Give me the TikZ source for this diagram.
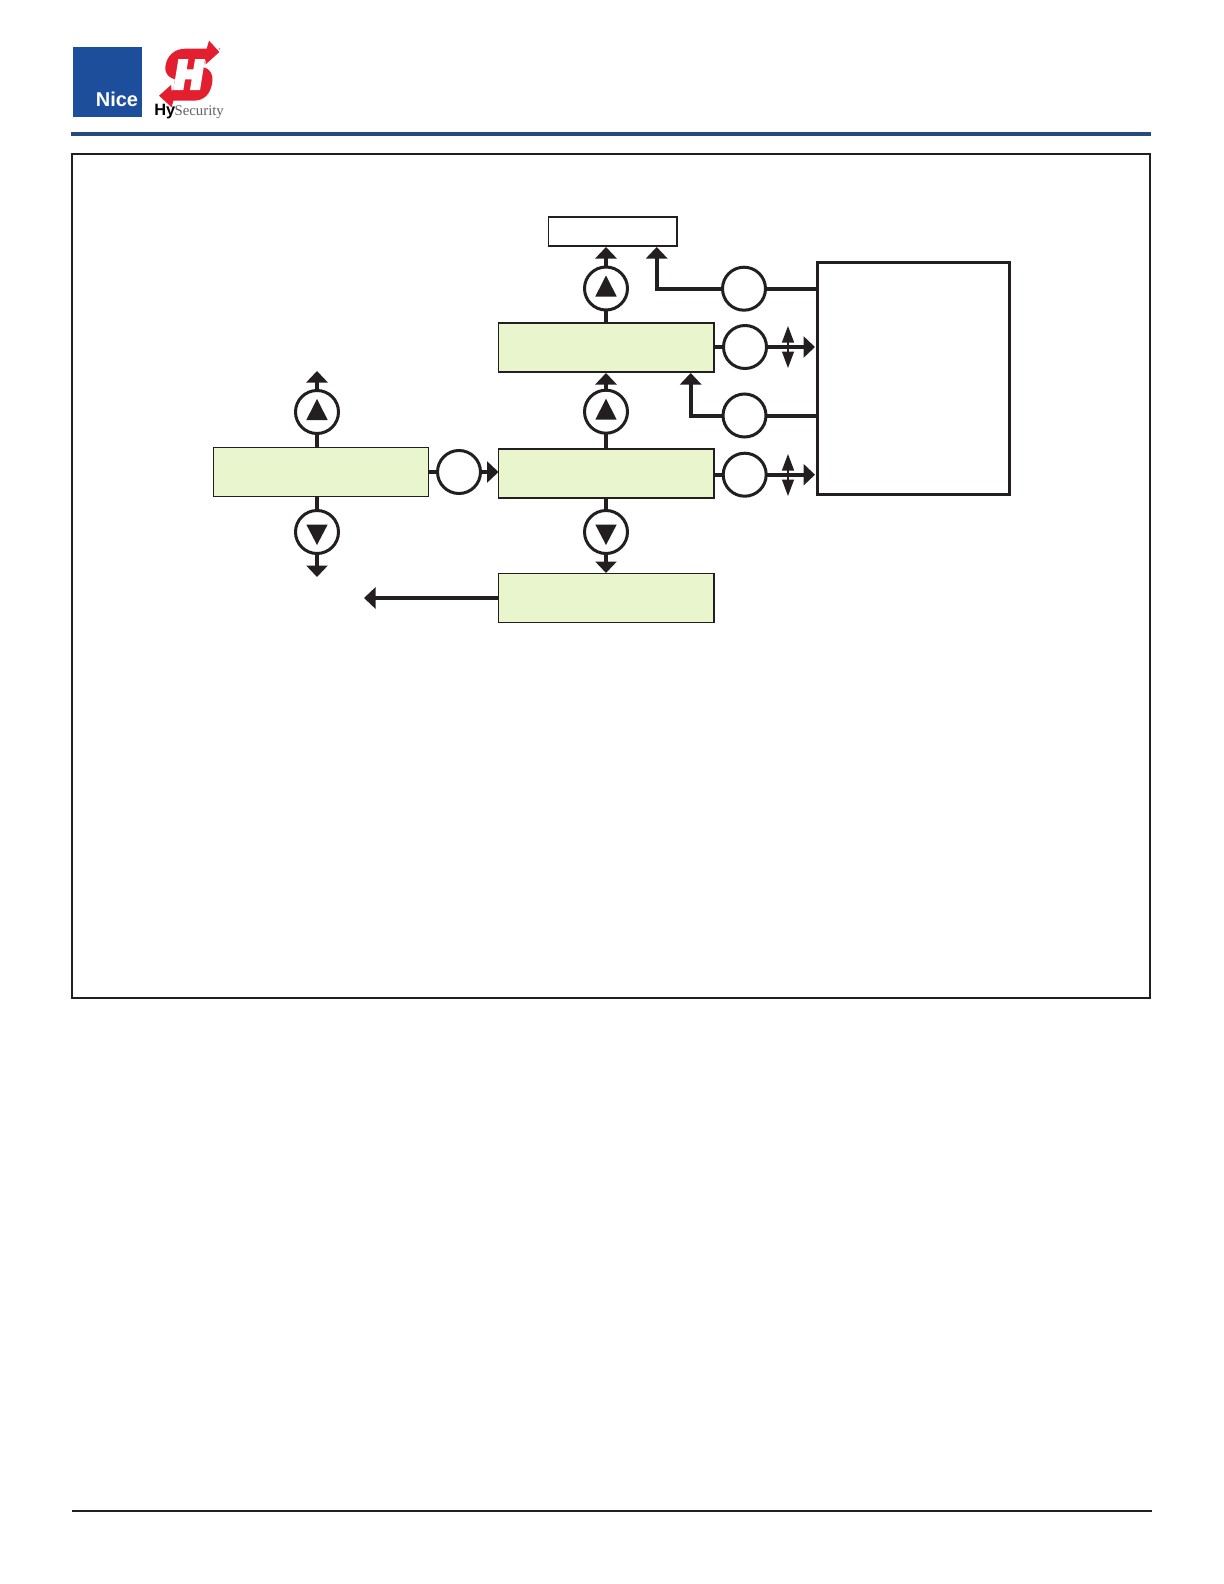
\documentclass[tikz,border=0pt]{standalone}
\usepackage{fontspec}
\setmainfont{Liberation Sans}
\newfontfamily\serifhy{Liberation Serif}
\usetikzlibrary{arrows.meta}
\definecolor{ink}{HTML}{231F20}
\definecolor{panel}{HTML}{E9F5CD}
\definecolor{rule}{HTML}{264A7D}
\definecolor{nice}{HTML}{1C4E9C}
\definecolor{hyred}{HTML}{E31F2F}
\tikzset{
  x=0.5pt,y=-0.5pt,
  panelbox/.style={draw=ink,fill=panel,line width=0.85pt,minimum width=107.75pt,minimum height=24.5pt,inner sep=0pt,outer sep=0pt},
  circ/.style={circle,draw=ink,fill=white,line width=1.5pt,minimum size=21.5pt,inner sep=0pt,outer sep=0pt},
  link/.style={draw=ink,line width=2pt},
  arrowlink/.style={link,-{Triangle[length=5.75pt,width=10.5pt,sep=0pt]}},
  updown/.style={draw=ink,line width=0.6pt,{Triangle[length=8.25pt,width=6pt,sep=0pt]}-{Triangle[length=8.25pt,width=6pt,sep=0pt]}},
  glyph/.style={fill=ink},
  cornerlink/.style={arrowlink,line join=miter}
}
\newcommand{\upglyph}[1]{\fill[glyph,shift={(#1)}] (0,-13) -- (-10.7,8) -- (10.7,8) -- cycle;}
\newcommand{\downglyph}[1]{\fill[glyph,shift={(#1)}] (0,13) -- (-10.7,-7.5) -- (10.7,-7.5) -- cycle;}
\begin{document}
\begin{tikzpicture}
\useasboundingbox (0,0) rectangle (1224,1584);
\fill[white] (0,0) rectangle (1224,1584);

% header
\fill[nice] (73,47) rectangle (141.7,116.7);
\node[anchor=base east,inner sep=0pt,text=white,font=\bfseries\fontsize{10pt}{12pt}\selectfont] (nicetext) at (138.5,106) {Nice};
\begin{scope}[shift={(60,30)},x=0.1667pt,y=-0.1667pt]
  \fill[hyred] (440,56) -- (447,32) -- (478,66) -- (437,103) -- (437,85) -- (430,112)
    .. controls (452,116) and (459,135) .. (457,155)
    .. controls (452,195) and (430,212) .. (400,212) -- (340,212) -- (335,232) -- (297,197) -- (333,165) -- (335,182) -- (340,180) -- (345,148)
    .. controls (328,144) and (314,132) .. (316,110)
    .. controls (320,78) and (342,57) .. (375,56) -- cycle;
  \fill[white] (355,87) -- (385,87) -- (380,118) -- (400,118) -- (405,87) -- (435,87) -- (420,180) -- (390,180) -- (395,148) -- (375,148) -- (370,180) -- (340,180) -- cycle;
  \fill[hyred] (478,57) circle (2);
\end{scope}
\node[anchor=base west,inner sep=0pt,font=\fontsize{8.2pt}{9pt}\selectfont] (hytext) at (154,116) {\textbf{\textcolor{black}{Hy}}\kern-0.4pt{\serifhy\fontsize{7.4pt}{9pt}\selectfont\textcolor{ink!70}{Security}}};
\fill[ink!60] (222.5,110) circle (0.5);

\fill[rule] (71,132) rectangle (1151,136);
\draw[ink,line width=1pt] (71.7,154) rectangle (1150,997.7);
\draw[ink,line width=1pt] (72,1511) -- (1152,1511);

% boxes
\node[draw=ink,fill=white,line width=0.85pt,minimum width=64.25pt,minimum height=14.25pt,inner sep=0pt,outer sep=0pt] (topbox) at (612.75,231.5) {};
\node[panelbox] (boxA) at (606.25,347.5) {};
\node[panelbox] (boxB) at (606.25,473.75) {};
\node[panelbox] (boxC) at (606.25,598) {};
\node[panelbox,line width=0.65pt] (boxL) at (321,472) {};
\node[draw=ink,fill=white,line width=1.5pt,minimum width=96pt,minimum height=116pt,inner sep=0pt,outer sep=0pt] (sidebox) at (913.25,378) {};

% circles
\node[circ] (upTop) at (606,288.5) {};
\node[circ] (upMid) at (606,411.7) {};
\node[circ] (downMid) at (606,532) {};
\node[circ] (upLeft) at (317,412) {};
\node[circ] (downLeft) at (317,532) {};
\node[circ] (goRight) at (459,472) {};
\node[circ] (sideA) at (744,288.7) {};
\node[circ] (sideB) at (745,347) {};
\node[circ] (sideC) at (744.5,415.5) {};
\node[circ] (sideD) at (744.7,474.7) {};

% glyphs
\upglyph{upTop}\upglyph{upMid}\upglyph{upLeft}
\downglyph{downMid}\downglyph{downLeft}

% free ends
\coordinate (tipTop) at (606,247);
\coordinate (tipMid) at (606,373);
\coordinate (tipLeftUp) at (317,371);
\coordinate (tipLeftDown) at (317,577);
\coordinate (tipDown) at (606,573);
\coordinate (tipExit) at (364,598);
\coordinate (tipElbowA) at (656.7,247);
\coordinate (tipElbowC) at (690.7,373);
\coordinate (tipSideB) at (815,347);
\coordinate (tipSideD) at (815,474.7);
\coordinate (udBtop) at (788,326);
\coordinate (udBbot) at (788,368);
\coordinate (udDtop) at (788,454);
\coordinate (udDbot) at (788,496);

% connectors
\draw[arrowlink] (upTop.north) -- (tipTop);
\draw[link] (upTop.south) -- (upTop.south |- boxA.north);
\draw[arrowlink] (upMid.north) -- (tipMid);
\draw[link] (upMid.south) -- (upMid.south |- boxB.north);
\draw[link] (boxB.south -| downMid) -- (downMid.north);
\draw[arrowlink] (downMid.south) -- (tipDown);
\draw[arrowlink] (upLeft.north) -- (tipLeftUp);
\draw[link] (upLeft.south) -- (upLeft.south |- boxL.north);
\draw[link] (boxL.south -| downLeft) -- (downLeft.north);
\draw[arrowlink] (downLeft.south) -- (tipLeftDown);
\draw[link] (boxL.east |- goRight) -- (goRight.west);
\draw[arrowlink] (goRight.east) -- (goRight.east -| boxB.west);
\draw[arrowlink] (boxC.west) -- (tipExit);
\draw[link] (sideA.east) -- (sideA.east -| sidebox.west);
\draw[cornerlink] (sideA.west) -| (tipElbowA);
\draw[link] (sideC.east) -- (sideC.east -| sidebox.west);
\draw[cornerlink] (sideC.west) -| (tipElbowC);
\draw[link] (boxA.east |- sideB) -- (sideB.west);
\draw[arrowlink] (sideB.east) -- (tipSideB);
\draw[link] (boxB.east |- sideD) -- (sideD.west);
\draw[arrowlink] (sideD.east) -- (tipSideD);
\draw[updown] (udBtop) -- (udBbot);
\draw[updown] (udDtop) -- (udDbot);
\end{tikzpicture}
\end{document}
